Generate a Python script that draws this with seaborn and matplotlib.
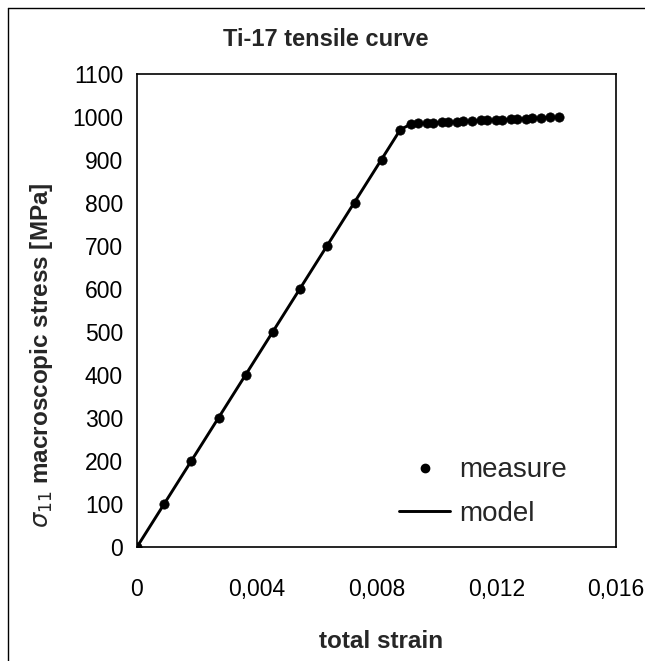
import matplotlib
matplotlib.use("Agg")
import matplotlib.pyplot as plt
import matplotlib.lines as mlines
from matplotlib.ticker import MultipleLocator
import pandas as pd
import seaborn as sns

# measured points (total strain, stress in MPa)
measure_strain = [0.0, 0.00091, 0.00182, 0.00273, 0.00364, 0.00454, 0.00545,
                  0.00636, 0.00727, 0.00818, 0.00879,
                  0.00915, 0.0094, 0.0097, 0.0099, 0.0102, 0.0104, 0.0107,
                  0.0109, 0.0112, 0.0115, 0.0117, 0.0120, 0.0122, 0.0125,
                  0.0127, 0.0130, 0.0132, 0.0135, 0.0138, 0.0141]
measure_stress = [0, 100, 200, 300, 400, 500, 600, 700, 800, 900, 970,
                  984, 985, 986, 987, 988, 988.5, 989, 990, 991, 992, 992.5,
                  993, 994, 995, 995.5, 996, 997, 998, 999, 1000]

# model curve
model_strain = [0.0, 0.00879, 0.00915, 0.0141]
model_stress = [0, 970, 984, 1000]

x_ticks = [0, 0.004, 0.008, 0.012, 0.016]
x_tick_labels = ["0", "0,004", "0,008", "0,012", "0,016"]

df_meas = pd.DataFrame({"strain": measure_strain, "stress": measure_stress})
df_model = pd.DataFrame({"strain": model_strain, "stress": model_stress})

sns.set_style("white")
plt.rcParams["font.family"] = ["Liberation Sans", "DejaVu Sans"]

fig = plt.figure(figsize=(6.45, 6.61), dpi=100)
ax = fig.add_axes([0.2124, 0.1725, 0.7426, 0.7155])

sns.lineplot(data=df_model, x="strain", y="stress", color="black",
             linewidth=2.1, estimator=None, sort=False, ax=ax, legend=False)
sns.scatterplot(data=df_meas, x="strain", y="stress", color="black",
                s=45, marker="o", edgecolor="black", linewidth=0.5, ax=ax,
                legend=False, zorder=3)

ax.set_xlim(0, 0.016)
ax.set_ylim(0, 1100)
ax.set_xticks(x_ticks)
ax.set_xticklabels(x_tick_labels)
ax.xaxis.set_minor_locator(MultipleLocator(0.001))
ax.yaxis.set_major_locator(MultipleLocator(100))
ax.yaxis.set_minor_locator(MultipleLocator(20))

ax.tick_params(axis="x", which="major", direction="inout", length=9,
               width=1, labelsize=16.5, pad=18, colors="black")
ax.tick_params(axis="x", which="minor", direction="in", length=4, width=0.8)
ax.tick_params(axis="y", which="major", direction="out", length=5,
               width=1, labelsize=16.5, pad=5, colors="black")
ax.tick_params(axis="y", which="minor", direction="in", length=4, width=0.8)

for sp in ax.spines.values():
    sp.set_color("black")
    sp.set_linewidth(1.2)

ax.set_xlabel("total strain", fontsize=17.5, fontweight="bold")
ax.xaxis.set_label_coords(0.51, -0.175)
ax.set_ylabel(r"$\sigma_{11}$ macroscopic stress [MPa]", fontsize=17.5,
              fontweight="bold")
ax.yaxis.set_label_coords(-0.172, 0.405)

fig.suptitle("Ti-17 tensile curve", x=0.505, y=0.957, fontsize=17,
             fontweight="bold")

h_meas = mlines.Line2D([], [], color="black", marker="o", markersize=6,
                       linestyle="none")
h_model = mlines.Line2D([], [], color="black", linewidth=2.1)
ax.legend([h_meas, h_model], ["measure", "model"], loc="lower left",
          bbox_to_anchor=(0.495, -0.01), frameon=False, fontsize=20,
          handlelength=1.85, handletextpad=0.3, labelspacing=0.62)

# scanned page border
fig.add_artist(mlines.Line2D([0.012, 1.0], [0.988, 0.988], color="black",
                             linewidth=1.0, transform=fig.transFigure))
fig.add_artist(mlines.Line2D([0.012, 0.012], [0.0, 0.988], color="black",
                             linewidth=1.0, transform=fig.transFigure))

fig.savefig("out.png", dpi=100, facecolor="white")
